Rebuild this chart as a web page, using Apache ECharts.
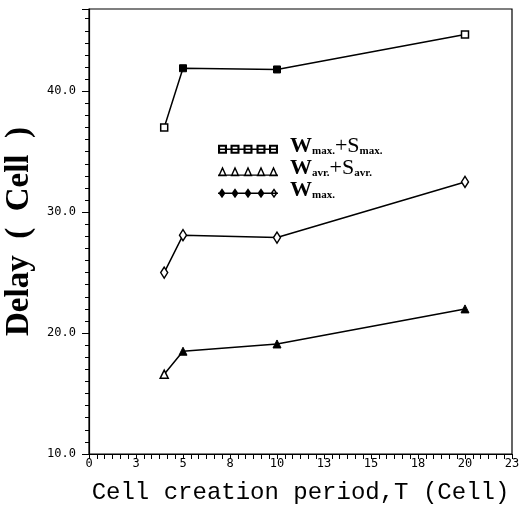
<!DOCTYPE html>
<html>
<head>
<meta charset="utf-8">
<script src="https://cdn.jsdelivr.net/npm/echarts@6/dist/echarts.min.js"></script>
<style>
  html, body { margin: 0; padding: 0; background: #fff; }
  #chart { width: 529px; height: 511px; }
</style>
</head>
<body>
<div id="chart"></div>
<script>
// cell creation period T (cell)
const periods = [4, 5, 10, 20];
// delay (cell)
const wmaxSmax = [37.0, 41.9, 41.8, 44.7];
const wavrSavr = [16.6, 18.5, 19.1, 22.0];
const wmax = [25.0, 28.1, 27.9, 32.5];
const seriesNames = ["Wmax+Smax", "Wavr+Savr", "Wmax"];
// x ticks sit every 2.5, printed rounded
const xTickLabels = ["0", "3", "5", "8", "10", "13", "15", "18", "20", "23"];
const yTickLabels = ["10.0", "20.0", "30.0", "40.0"];

// which points are drawn hollow
const hollowSq = [true, false, false, true];
const hollowTri = [true, false, false, false];
const hollowDia = [true, true, true, true];

const legendRich = {
  "Wmax+Smax": "{w|W}{s|max.}{p|+S}{s|max.}",
  "Wavr+Savr": "{w|W}{s|avr.}{p|+S}{s|avr.}",
  "Wmax": "{w|W}{s|max.}",
};

// legend icons: five markers strung on a line
function sqIcon() {
  let p = "M0 4.2H60V5.8H0Z";
  [4.5, 17, 30, 43, 55.5].forEach((c) => {
    p += `M${c - 4.5} 0.5H${c + 4.5}V9.5H${c - 4.5}Z M${c - 2.4} 2.6V7.4H${c + 2.4}V2.6Z`;
  });
  return "path://" + p;
}
function triIcon() {
  let p = "M0 8.2H60V9.6H0Z";
  [4.5, 17, 30, 43, 55.5].forEach((c) => {
    p += `M${c} 0L${c + 4.5} 10H${c - 4.5}Z M${c} 3.6L${c - 2.2} 8.2H${c + 2.2}Z`;
  });
  return "path://" + p;
}
function diaIcon() {
  let p = "M0 4.2H60V5.8H0Z";
  [4, 17, 30, 43].forEach((c) => {
    p += `M${c} 0L${c + 3.5} 5L${c} 10L${c - 3.5} 5Z`;
  });
  p += "M56 0L59.5 5L56 10L52.5 5Z M56 2.6L54.3 5L56 7.4L57.7 5Z";
  return "path://" + p;
}

function makeData(ys, hollow) {
  return periods.map((x, i) => ({
    value: [x, ys[i]],
    itemStyle: hollow[i]
      ? { color: "#fff", borderColor: "#000", borderWidth: 1.5 }
      : { color: "#000", borderColor: "#000", borderWidth: 1 },
  }));
}

const chart = echarts.init(document.getElementById("chart"));
chart.setOption({
  animation: false,
  backgroundColor: "#fff",
  grid: {
    left: 89,
    right: 17,
    top: 9,
    bottom: 57,
    outerBoundsMode: "none",
    show: true,
    borderColor: "#000",
    borderWidth: 1.2,
  },
  legend: {
    orient: "vertical",
    left: 213,
    top: 130,
    itemWidth: 60,
    itemHeight: 10,
    itemGap: 0,
    selectedMode: false,
    itemStyle: { borderWidth: 0, color: "#000" },
    data: [
      { name: seriesNames[0], icon: sqIcon() },
      { name: seriesNames[1], icon: triIcon() },
      { name: seriesNames[2], icon: diaIcon() },
    ],
    formatter: (name) => legendRich[name],
    textStyle: {
      padding: [0, 0, 0, 7],
      rich: {
        w: { fontFamily: "Liberation Serif", fontWeight: "bold", fontSize: 22, color: "#000", lineHeight: 15.5, verticalAlign: "bottom" },
        p: { fontFamily: "Liberation Serif", fontSize: 22, color: "#000", lineHeight: 15.5, verticalAlign: "bottom" },
        s: { fontFamily: "Liberation Serif", fontWeight: "bold", fontSize: 11, color: "#000", lineHeight: 10, verticalAlign: "bottom" },
      },
    },
  },
  xAxis: {
    type: "value",
    min: 0,
    max: 22.5,
    interval: 2.5,
    name: "Cell creation period,T (Cell)",
    nameLocation: "middle",
    nameGap: 27,
    nameTextStyle: { fontFamily: "Liberation Mono", fontSize: 24, color: "#000" },
    axisLine: { lineStyle: { color: "#000", width: 1.2 } },
    axisTick: { length: 5, lineStyle: { color: "#000" } },
    minorTick: { show: true, splitNumber: 6, length: 5, lineStyle: { color: "#000" } },
    splitLine: { show: false },
    axisLabel: {
      margin: 4,
      fontFamily: "DejaVu Sans Mono",
      fontSize: 12,
      color: "#000",
      formatter: (v) => xTickLabels[Math.round(v / 2.5)],
    },
  },
  yAxis: [
    {
      type: "value",
      min: 10,
      max: 46.8,
      interval: 1,
      name: "Delay  (  Cell  )",
      nameLocation: "middle",
      nameGap: 52,
      nameTextStyle: { fontFamily: "Liberation Serif", fontWeight: "bold", fontSize: 33, color: "#000" },
      axisLine: { lineStyle: { color: "#000", width: 1.2 } },
      axisTick: { length: 4, lineStyle: { color: "#000" } },
      splitLine: { show: false },
      axisLabel: {
        margin: 13,
        fontFamily: "DejaVu Sans Mono",
        fontSize: 12,
        color: "#000",
        showMaxLabel: false,
        formatter: (v) => (v % 10 === 0 ? yTickLabels[v / 10 - 1] : ""),
      },
    },
    {
      type: "value",
      min: 10,
      max: 46.8,
      interval: 10,
      position: "left",
      axisLine: { show: false },
      axisTick: { length: 7, lineStyle: { color: "#000" } },
      axisLabel: { show: false },
      splitLine: { show: false },
    },
  ],
  series: [
    {
      name: seriesNames[0],
      type: "line",
      symbol: "rect",
      symbolSize: 7,
      color: "#000",
      lineStyle: { color: "#000", width: 1.5 },
      data: makeData(wmaxSmax, hollowSq),
    },
    {
      name: seriesNames[1],
      type: "line",
      symbol: "triangle",
      symbolSize: 8,
      color: "#000",
      lineStyle: { color: "#000", width: 1.5 },
      data: makeData(wavrSavr, hollowTri),
    },
    {
      name: seriesNames[2],
      type: "line",
      symbol: "diamond",
      symbolSize: [7, 11],
      color: "#000",
      lineStyle: { color: "#000", width: 1.5 },
      data: makeData(wmax, hollowDia),
    },
  ],
});
</script>
</body>
</html>
